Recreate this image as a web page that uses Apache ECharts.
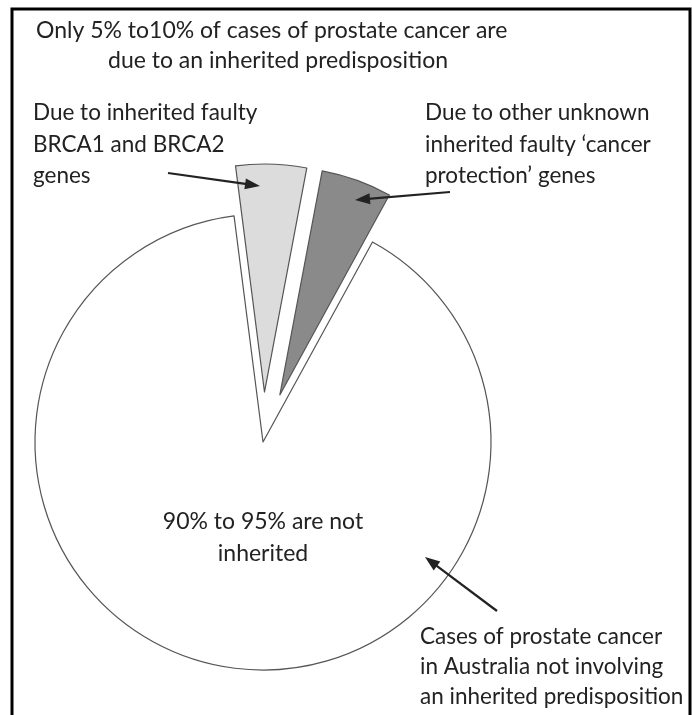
<!DOCTYPE html>
<html>
<head>
<meta charset="utf-8">
<script src="https://cdn.jsdelivr.net/npm/echarts@6/dist/echarts.min.js"></script>
<style>html,body{margin:0;padding:0;background:#fff;}#c{width:692px;height:715px;}</style>
</head>
<body>
<div id="c"></div>
<script>
// Data
var categories = ['Due to inherited faulty BRCA1 and BRCA2 genes', 'Due to other unknown inherited faulty cancer protection genes', 'Not inherited'];
var values = [5, 5, 90];
var exploded = [true, true, false];
var titleLines = ['Only 5% to10% of cases of prostate cancer are', 'due to an inherited predisposition'];
var leftLabel = ['Due to inherited faulty', 'BRCA1 and BRCA2', 'genes'];
var rightLabel = ['Due to other unknown', 'inherited faulty \u2018cancer', 'protection\u2019 genes'];
var centerLabel = ['90% to 95% are not', 'inherited'];
var bottomLabel = ['Cases of prostate cancer', 'in Australia not involving', 'an inherited predisposition'];

var colors = ['#dcdcdc', '#8a8a8a', '#ffffff'];
var FONT = 'Lato';
var TXT = '#222';

function textBlock(lines, x, y0, step, align, size) {
  return lines.map(function (s, i) {
    return {
      type: 'text', z: 100, x: x, y: y0 + i * step,
      style: { text: s, fill: TXT, font: (size || 23) + 'px ' + FONT, textAlign: align || 'left', textVerticalAlign: 'middle' }
    };
  });
}
function arrow(x1, y1, x2, y2) {
  var dx = x2 - x1, dy = y2 - y1, L = Math.sqrt(dx * dx + dy * dy);
  var ux = dx / L, uy = dy / L, hl = 15, hw = 5.5;
  var bx = x2 - ux * hl, by = y2 - uy * hl;
  return [
    { type: 'line', z: 100, shape: { x1: x1, y1: y1, x2: bx + ux * 2, y2: by + uy * 2 }, style: { stroke: '#222', lineWidth: 2.2 } },
    { type: 'polygon', z: 100, shape: { points: [[x2, y2], [bx - uy * hw, by + ux * hw], [bx + uy * hw, by - ux * hw]] }, style: { fill: '#222' } }
  ];
}

var graphics = [];
graphics.push({ type: 'rect', z: 100, shape: { x: 12, y: 9, width: 678, height: 720 }, style: { fill: 'none', stroke: '#000', lineWidth: 3 } });
graphics = graphics.concat(textBlock([titleLines[0]], 36, 31, 30));
graphics = graphics.concat(textBlock([titleLines[1]], 108, 61, 30));
graphics = graphics.concat(textBlock(leftLabel, 33, 113, 31.5, 'left', 22.5));
graphics = graphics.concat(textBlock(rightLabel, 425, 113, 31.5, 'left', 22.5));
graphics = graphics.concat(textBlock(centerLabel, 263, 522, 32, 'center'));
graphics = graphics.concat(textBlock(bottomLabel, 420, 637, 30, 'left', 22.5));
graphics = graphics.concat(arrow(168, 173, 260, 186));
graphics = graphics.concat(arrow(450, 192, 355, 200));
graphics = graphics.concat(arrow(497, 611, 425, 557));

var chart = echarts.init(document.getElementById('c'), null, { renderer: 'canvas' });
chart.setOption({
  backgroundColor: '#fff',
  animation: false,
  series: [{
    type: 'pie',
    z: 1,
    center: [263, 442],
    radius: [0, 228],
    startAngle: 97.3,
    clockwise: true,
    selectedMode: 'multiple',
    selectedOffset: 50,
    label: { show: false },
    labelLine: { show: false },
    emphasis: { disabled: true },
    data: categories.map(function (c, i) {
      return {
        name: c, value: values[i], selected: exploded[i],
        itemStyle: { color: colors[i], borderColor: '#555', borderWidth: 1.2 }
      };
    })
  }],
  graphic: graphics
});
</script>
</body>
</html>
